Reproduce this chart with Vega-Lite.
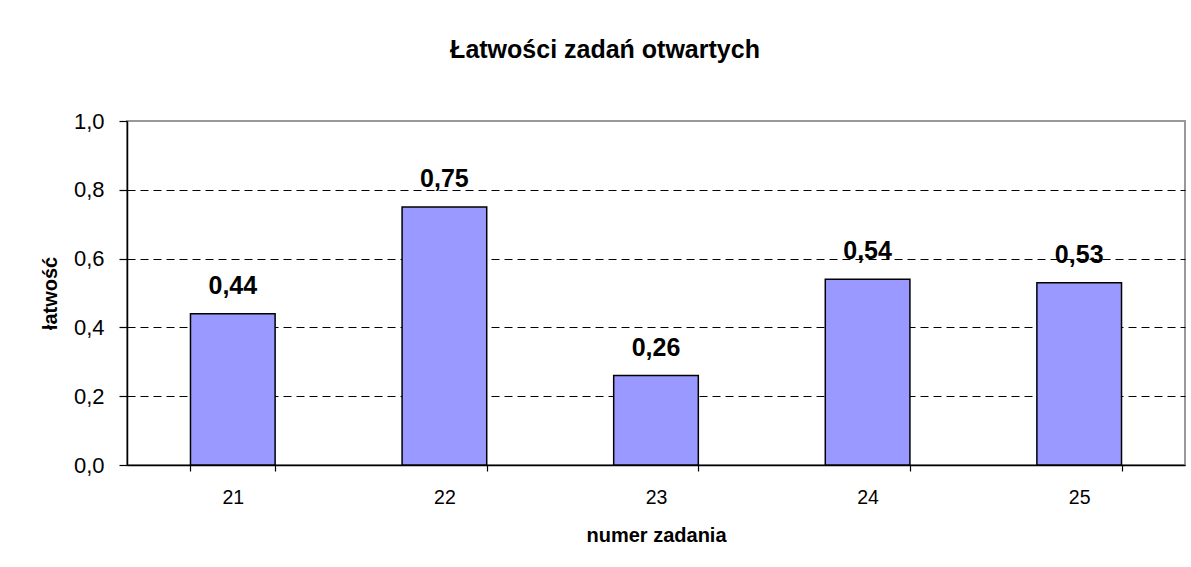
{
  "$schema": "https://vega.github.io/schema/vega-lite/v6.json",
  "width": 1058,
  "height": 344,
  "autosize": {"type": "none"},
  "padding": {"left": 127, "top": 121, "right": 6, "bottom": 102},
  "background": "white",
  "title": {
    "text": "Łatwości zadań otwartych",
    "font": "Liberation Sans",
    "fontSize": 25,
    "fontWeight": "bold",
    "color": "black",
    "anchor": "middle",
    "frame": "group",
    "dx": -51,
    "baseline": "alphabetic",
    "offset": 27
  },
  "data": {
    "values": [
      {"zadanie": "21", "latwosc": 0.44},
      {"zadanie": "22", "latwosc": 0.75},
      {"zadanie": "23", "latwosc": 0.26},
      {"zadanie": "24", "latwosc": 0.54},
      {"zadanie": "25", "latwosc": 0.53}
    ]
  },
  "encoding": {
    "x": {
      "field": "zadanie",
      "type": "ordinal",
      "scale": {"paddingInner": 0.6, "paddingOuter": 0.3},
      "axis": {
        "title": "numer zadania",
        "labelAngle": 0,
        "labelFontSize": 19.5,
        "labelPadding": 17,
        "tickBand": "extent",
        "tickSize": 6,
        "titlePadding": 19
      }
    }
  },
  "layer": [
    {
      "mark": {"type": "bar", "fill": "#9999FF", "stroke": "black", "strokeWidth": 1.5},
      "encoding": {
        "y": {
          "field": "latwosc",
          "type": "quantitative",
          "scale": {"domain": [0, 1], "nice": false},
          "axis": {
            "title": "łatwość",
            "values": [0, 0.2, 0.4, 0.6, 0.8, 1.0],
            "format": ".1f",
            "labelFontSize": 22,
            "labelPadding": 15,
            "tickSize": 8,
            "titlePadding": 13,
            "grid": true,
            "gridColor": "black",
            "gridDash": [8, 5],
            "gridWidth": 1,
            "gridOpacity": {"condition": {"test": "datum.value <= 0 || datum.value >= 1", "value": 0}, "value": 1}
          }
        }
      }
    },
    {
      "mark": {
        "type": "text",
        "dy": -20,
        "baseline": "alphabetic",
        "font": "Liberation Sans",
        "fontSize": 25,
        "fontWeight": "bold",
        "color": "black"
      },
      "encoding": {
        "y": {"field": "latwosc", "type": "quantitative"},
        "text": {"field": "latwosc", "type": "quantitative", "format": ".2f"}
      }
    }
  ],
  "config": {
    "locale": {
      "number": {"decimal": ",", "thousands": " ", "grouping": [3], "currency": ["", " zł"]}
    },
    "view": {"stroke": "#999999", "strokeWidth": 2},
    "axis": {
      "labelFont": "Liberation Sans",
      "titleFont": "Liberation Sans",
      "labelColor": "black",
      "titleColor": "black",
      "titleFontSize": 20,
      "titleFontWeight": "bold",
      "domainColor": "black",
      "domainWidth": 1.5,
      "tickColor": "black",
      "tickWidth": 1.2
    }
  }
}
